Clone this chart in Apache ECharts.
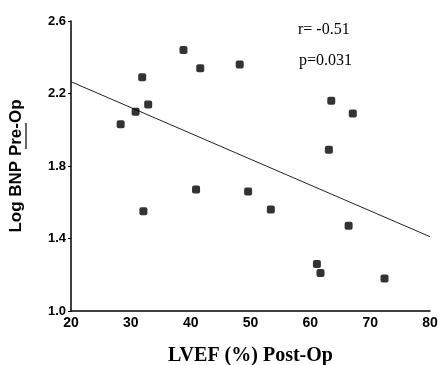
<!DOCTYPE html>
<html>
<head>
<meta charset="utf-8">
<script src="https://cdn.jsdelivr.net/npm/echarts@6/dist/echarts.min.js"></script>
<style>
  html, body { margin: 0; padding: 0; background: #fff; }
  #main { width: 445px; height: 365px; }
</style>
</head>
<body>
<div id="main"></div>
<script>
// LVEF (%) post-op vs log BNP pre-op
const lvef = [38.8, 41.6, 48.2, 31.9, 32.9, 30.8, 28.3, 40.9, 49.6, 32.1, 63.5, 67.1, 63.1, 53.4, 66.4, 61.1, 61.7, 72.4];
const logBnp = [2.44, 2.34, 2.36, 2.29, 2.14, 2.10, 2.03, 1.67, 1.66, 1.55, 2.16, 2.09, 1.89, 1.56, 1.47, 1.26, 1.21, 1.18];
const fitX = [20, 80];
const fitY = [2.265, 1.41];
const xTicks = [20, 30, 40, 50, 60, 70, 80];
const yTicks = [1.0, 1.4, 1.8, 2.2, 2.6];

const chart = echarts.init(document.getElementById("main"));
chart.setOption({
  animation: false,
  grid: { left: 71, right: 15, top: 21, bottom: 54, outerBoundsMode: "none", containLabel: false },
  xAxis: {
    type: "value",
    min: xTicks[0],
    max: xTicks[xTicks.length - 1],
    interval: 10,
    name: "LVEF (%) Post-Op",
    nameLocation: "middle",
    nameGap: 35,
    nameTextStyle: { fontFamily: "Liberation Serif", fontWeight: "bold", fontSize: 20, color: "#000" },
    axisLine: { lineStyle: { color: "#000", width: 1.5 } },
    axisTick: { show: false },
    splitLine: { show: false },
    axisLabel: { fontFamily: "Liberation Sans", fontWeight: "bold", fontSize: 14, color: "#000", margin: 5 },
  },
  yAxis: {
    type: "value",
    min: yTicks[0],
    max: yTicks[yTicks.length - 1],
    interval: 0.4,
    name: "Log BNP Pre-Op",
    nameLocation: "middle",
    nameGap: 46,
    nameTextStyle: { fontFamily: "Liberation Sans", fontWeight: "bold", fontSize: 17, color: "#000" },
    axisLine: { show: true, lineStyle: { color: "#000", width: 1.5 } },
    axisTick: { show: true, length: 3, lineStyle: { color: "#000" } },
    splitLine: { show: false },
    axisLabel: {
      fontFamily: "Liberation Sans", fontWeight: "bold", fontSize: 13, color: "#000", margin: 5,
      formatter: (v) => v.toFixed(1),
    },
  },
  series: [
    {
      type: "line",
      data: fitX.map((x, i) => [x, fitY[i]]),
      symbol: "none",
      lineStyle: { color: "#222", width: 1 },
      z: 1,
    },
    {
      type: "scatter",
      data: lvef.map((x, i) => [x, logBnp[i]]),
      symbol: "roundRect",
      symbolSize: 8,
      itemStyle: { color: "#000" },
      z: 2,
    },
  ],
  graphic: [
    {
      type: "text",
      left: 298,
      top: 22,
      style: { text: "r= -0.51", fontFamily: "Liberation Serif", fontSize: 16, fill: "#000" },
    },
    {
      type: "text",
      left: 299,
      top: 53,
      style: { text: "p=0.031", fontFamily: "Liberation Serif", fontSize: 16, fill: "#000" },
    },
    {
      type: "line",
      shape: { x1: 26, y1: 123, x2: 26, y2: 149 },
      style: { stroke: "#000", lineWidth: 1.2 },
    },
  ],
});
</script>
</body>
</html>
